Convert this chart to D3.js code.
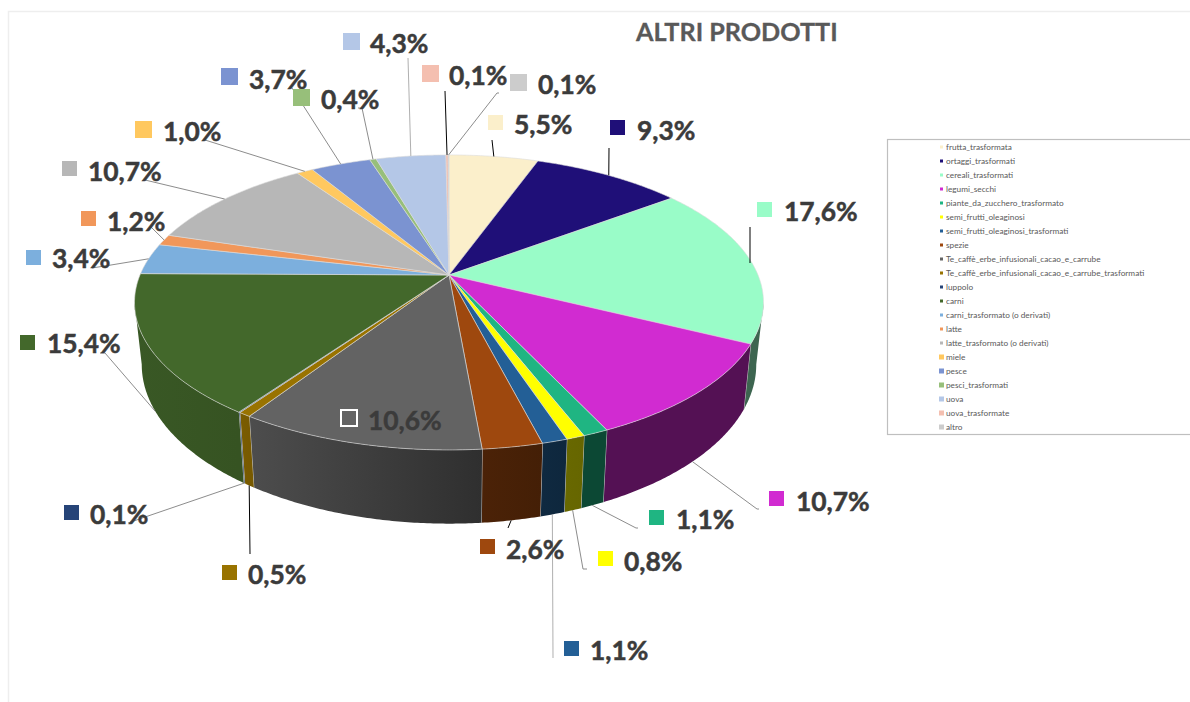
<!DOCTYPE html>
<html>
<head>
<meta charset="utf-8">
<script src="https://cdn.jsdelivr.net/npm/d3@7/dist/d3.min.js"></script>
<style>
    body { margin: 0; background: #fff; }
    svg { display: block; }
    text { font-family: Lato, "Open Sans", sans-serif; }
</style>
</head>
<body>
<div id="chart"></div>
<script>
// Chart data, in clockwise order from the top of the pie
const categories = [
    "frutta_trasformata", "ortaggi_trasformati", "cereali_trasformati", "legumi_secchi",
    "piante_da_zucchero_trasformato", "semi_frutti_oleaginosi", "semi_frutti_oleaginosi_trasformati",
    "spezie", "Te_caffè_erbe_infusionali_cacao_e_carrube", "Te_caffè_erbe_infusionali_cacao_e_carrube_trasformati",
    "luppolo", "carni", "carni_trasformato (o derivati)", "latte", "latte_trasformato (o derivati)",
    "miele", "pesce", "pesci_trasformati", "uova", "uova_trasformate", "altro"
];
// the 0,1% slices are estimated below or above 0.1 from their drawn width
const percentages = [5.5, 9.3, 17.6, 10.7, 1.1, 0.8, 1.1, 2.6, 10.6, 0.54, 0.06, 15.4, 3.4, 1.2, 10.7, 1.0, 3.7, 0.4, 4.3, 0.14, 0.05];
const colors = [
    "#fbefcb", "#1f0f78", "#99fcc8", "#d12bd1", "#1fb582", "#ffff00", "#235f96", "#9e480e", "#636363", "#997300",
    "#264478", "#43682b", "#7cafdd", "#f1975a", "#b7b7b7", "#ffc85f", "#7b93d1", "#97bf7a", "#b4c7e7", "#f4bfb0", "#cccccc"
];

// Where each data label sits: square corner, text x, text middle y, leader end points
const labelLayout = [
    {sx: 488, sy: 115, s: 15, tx: 514, ty: 124, end: [[492, 140]], black: true},
    {sx: 610, sy: 120, s: 15, tx: 637, ty: 130, end: [[609, 148]], black: true},
    {sx: 757, sy: 202, s: 15, tx: 784, ty: 211, from: [750, 263], end: [[750, 227]], black: true},
    {sx: 769, sy: 491, s: 15, tx: 796, ty: 501, end: [[757, 509], [759, 509]]},
    {sx: 649, sy: 510, s: 15, tx: 676, ty: 519, end: [[636, 528], [638, 528]]},
    {sx: 598, sy: 551, s: 15, tx: 624, ty: 561, end: [[583, 569], [587, 569]]},
    {sx: 564, sy: 641, s: 15, tx: 590, ty: 650, end: [[553, 658]], light: true},
    {sx: 480, sy: 539, s: 15, tx: 506, ty: 549, end: [[508, 528]], black: true},
    {sx: 341, sy: 410, s: 16, tx: 368, ty: 420, hollow: true},
    {sx: 222, sy: 565, s: 15, tx: 248, ty: 574, end: [[250, 554]], black: true},
    {sx: 64, sy: 505, s: 15, tx: 90, ty: 514, end: [[148, 516], [128, 523]]},
    {sx: 20, sy: 335, s: 15, tx: 47, ty: 343, end: [[105, 353], [100, 353]]},
    {sx: 26, sy: 250, s: 15, tx: 52, ty: 258, end: [[111, 265], [92, 268]]},
    {sx: 81, sy: 211, s: 15, tx: 107, ty: 221, end: [[150, 226]]},
    {sx: 62, sy: 161, s: 15, tx: 88, ty: 171, end: [[145, 180]]},
    {sx: 135, sy: 121, s: 17, tx: 163, ty: 131, end: [[205, 140]]},
    {sx: 221, sy: 68, s: 17, tx: 249, ty: 79, end: [[292, 88]]},
    {sx: 293, sy: 89, s: 17, tx: 321, ty: 99, end: [[362, 108], [358, 108]]},
    {sx: 343, sy: 33, s: 17, tx: 370, ty: 43, end: [[408, 58]], light: true},
    {sx: 422, sy: 65, s: 17, tx: 449, ty: 75, end: [[445, 91]], black: true},
    {sx: 510, sy: 74, s: 17, tx: 538, ty: 84, end: [[497, 93], [499, 93]]}
];

const width = 1190, height = 702;

// Pie geometry: a tilted disc seen in perspective
const cx = 449, cy = 275;
const radiusX = 309, radiusY = 142.4;
const tilt = 0.186;
const depth = 60;
const bottomShrink = 0.977;

const svg = d3.select("#chart").append("svg")
    .attr("width", width)
    .attr("height", height)
    .attr("viewBox", "0 0 " + width + " " + height);
const defs = svg.append("defs");

// chart area frame
svg.append("path")
    .attr("d", "M8.5,702V11.5H1190")
    .attr("fill", "none")
    .attr("stroke", "#eeeeee")
    .attr("stroke-width", 1.5);

svg.append("text")
    .attr("x", 636)
    .attr("y", 41)
    .attr("font-size", 25.2)
    .attr("font-weight", 700)
    .attr("fill", "#595959")
    .attr("stroke", "#595959")
    .attr("stroke-width", 0.3)
    .text("ALTRI PRODOTTI");

// angle on the pie -> point on the top rim
function topPoint(a) {
    const X = Math.sin(a), Y = -Math.cos(a), w = 1 - tilt * Y;
    return [cx + radiusX * X / w, cy + radiusY * Y / w];
}
// same angle -> point on the bottom rim
function bottomPoint(a) {
    const X = Math.sin(a), Y = -Math.cos(a), w = 1 - tilt * Y;
    return [cx + bottomShrink * radiusX * X / w, cy + radiusY * Y / w + depth / w];
}

const slices = d3.pie().sort(null).startAngle(0).endAngle(2 * Math.PI)(percentages);
const line = d3.line();
const rad = Math.PI / 180;

function arcAngles(a0, a1) {
    const n = Math.max(2, Math.ceil((a1 - a0) / (0.5 * rad)));
    return d3.range(n + 1).map(i => a0 + (a1 - a0) * i / n);
}

// side wall gets darker towards the right, as in the picture
const wallShade = d3.scaleLinear()
    .domain([100, 160, 180, 195, 215, 260].map(d => d * rad))
    .range([0.4, 0.4, 0.5, 0.62, 0.8, 0.85])
    .clamp(true);
const wallFrom = 100.7 * rad, wallTo = 259.3 * rad;

function shaded(c, k) {
    const col = d3.rgb(c);
    return d3.rgb(col.r * k, col.g * k, col.b * k).formatHex();
}

const walls = svg.append("g");
slices.forEach(function(d, i) {
    const a0 = Math.max(d.startAngle, wallFrom), a1 = Math.min(d.endAngle, wallTo);
    if (a1 <= a0) return;
    const grad = defs.append("linearGradient")
        .attr("id", "wall" + i)
        .attr("gradientUnits", "userSpaceOnUse")
        .attr("x1", topPoint(a0)[0]).attr("y1", 0)
        .attr("x2", topPoint(a1)[0]).attr("y2", 0);
    grad.append("stop").attr("offset", 0).attr("stop-color", shaded(colors[i], wallShade(a0)));
    grad.append("stop").attr("offset", 1).attr("stop-color", shaded(colors[i], wallShade(a1)));

    const angles = arcAngles(a0, a1);
    const pts = angles.map(topPoint).concat(angles.slice().reverse().map(bottomPoint));
    walls.append("path")
        .attr("d", line(pts) + "Z")
        .attr("fill", "url(#wall" + i + ")");
    // light divider between neighbouring slices
    if (d.endAngle < wallTo) {
        walls.append("path")
            .attr("d", line([topPoint(d.endAngle), bottomPoint(d.endAngle)]))
            .attr("stroke", "#c8c8c8")
            .attr("stroke-width", 1)
            .attr("fill", "none");
    }
});

svg.append("g").selectAll("path")
    .data(slices)
    .enter().append("path")
    .attr("d", function(d) {
        const pts = arcAngles(d.startAngle, d.endAngle).map(topPoint);
        return line([[cx, cy]].concat(pts)) + "Z";
    })
    .attr("fill", function(d, i) { return colors[i]; })
    .attr("stroke", "#dcdcdc")
    .attr("stroke-width", 0.6)
    .attr("stroke-linejoin", "round");

// leader lines start on the rim at the middle of each slice
const leaders = svg.append("g").attr("fill", "none");
slices.forEach(function(d, i) {
    const lay = labelLayout[i];
    if (!lay.end) return;
    const mid = (d.startAngle + d.endAngle) / 2;
    const front = mid > wallFrom && mid < wallTo;
    const start = lay.from || (front ? bottomPoint(mid) : topPoint(mid));
    leaders.append("path")
        .attr("d", line([start].concat(lay.end)))
        .attr("stroke", lay.black ? "#000000" : (lay.light ? "#a6a6a6" : "#7f7f7f"))
        .attr("stroke-width", lay.black ? 1 : 0.9);
});

// data labels, printed to one decimal with an Italian comma
const labels = svg.append("g");
percentages.forEach(function(v, i) {
    const lay = labelLayout[i];
    labels.append("rect")
        .attr("x", lay.sx)
        .attr("y", lay.sy)
        .attr("width", lay.s)
        .attr("height", lay.s)
        .attr("fill", lay.hollow ? "none" : colors[i])
        .attr("stroke", lay.hollow ? "#ffffff" : "none")
        .attr("stroke-width", 2);
    labels.append("text")
        .attr("x", lay.tx)
        .attr("y", lay.ty)
        .attr("dy", "0.36em")
        .attr("font-size", 26.4)
        .attr("font-weight", 700)
        .attr("fill", "#3b3b3b")
        .attr("stroke", "#3b3b3b")
        .attr("stroke-width", 0.5)
        .text(v.toFixed(1).replace(".", ",") + "%");
});

// legend box on the right, runs off the page edge
svg.append("rect")
    .attr("x", 887.5)
    .attr("y", 139.5)
    .attr("width", 310)
    .attr("height", 295)
    .attr("fill", "#fff")
    .attr("stroke", "#bfbfbf")
    .attr("stroke-width", 1.2);

const legendY = d3.scalePoint().domain(categories).range([147, 427]);
const legend = svg.append("g").selectAll("g")
    .data(categories)
    .enter().append("g")
    .attr("transform", function(d) { return "translate(0," + legendY(d) + ")"; });
legend.append("rect")
    .attr("x", function(d, i) { return i < 15 ? 940 : 939; })
    .attr("y", function(d, i) { return i < 15 ? -1.5 : -2.5; })
    .attr("width", function(d, i) { return i < 15 ? 3 : 5; })
    .attr("height", function(d, i) { return i < 15 ? 3 : 5; })
    .attr("fill", function(d, i) { return colors[i]; });
legend.append("text")
    .attr("x", 946)
    .attr("dy", "0.35em")
    .attr("font-size", 8.25)
    .attr("fill", "#595959")
    .text(function(d) { return d; });
</script>
</body>
</html>
